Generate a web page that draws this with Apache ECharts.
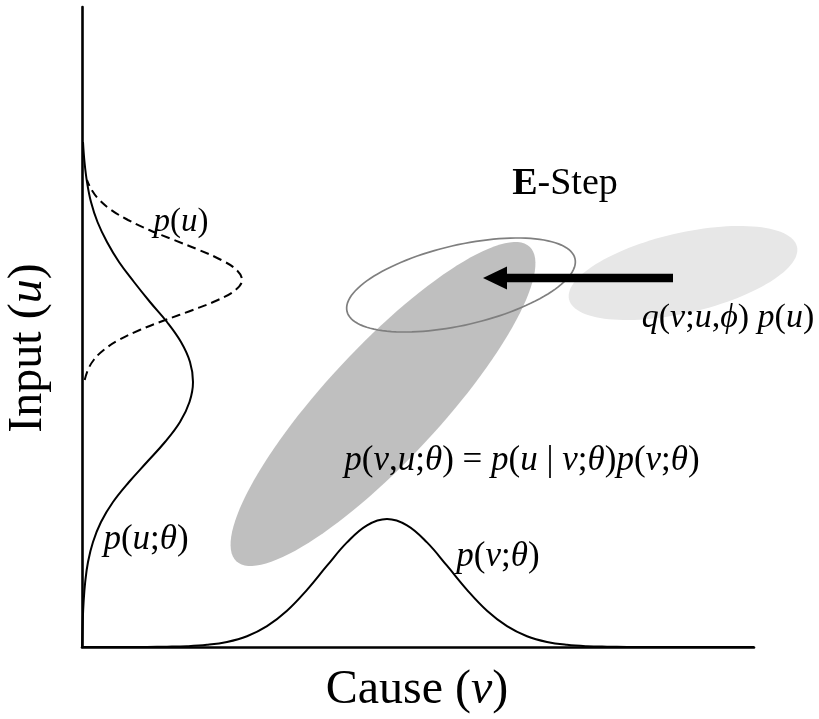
<!DOCTYPE html>
<html>
<head>
<meta charset="utf-8">
<script src="https://cdn.jsdelivr.net/npm/echarts@6/dist/echarts.min.js"></script>
<style>
html,body{margin:0;padding:0;background:#fff;}
#chart{width:819px;height:719px;}
</style>
</head>
<body>
<div id="chart"></div>
<script>
// ---- axis ranges (diagram units) ----
const causeRange = [0, 672];
const inputRange = [0, 640];

// ---- p(v;theta): marginal over the cause axis ----
const causeV  = [0, 45, 65, 85, 105, 125, 145, 165, 185, 205, 225, 245, 265, 285, 305, 325, 345, 365, 385, 405, 425, 445, 465, 485, 505, 525, 545, 565, 672];
const pVTheta = [0, 0, 0.1, 0.3, 0.8, 2.2, 5.1, 10.8, 20.9, 36.3, 57.2, 81.3, 104.6, 121.7, 128, 121.7, 104.6, 81.3, 57.2, 36.3, 20.9, 10.8, 5.1, 2.2, 0.8, 0.3, 0.1, 0, 0];

// ---- p(u;theta): marginal over the input axis (solid) ----
const inputUTheta = [0, 25, 45, 65, 85, 105, 125, 145, 165, 185, 205, 225, 245, 265, 285, 305, 325, 345, 365, 385, 405, 425, 445, 465, 485, 505];
const pUTheta     = [0, 0.7, 1.6, 3.2, 6, 11, 19, 31, 47, 65, 83, 98, 107.5, 111, 108, 99, 85, 68, 52, 37, 25, 15.5, 9, 5, 2.5, 1.0];

// ---- p(u): prior over the input axis (dashed) ----
const inputUPrior = [267, 277, 287, 297, 307, 317, 327, 337, 347, 357, 367, 377, 387, 397, 407, 417, 427, 437, 447, 457, 467];
const pUPrior     = [2.7, 5.9, 11.7, 21.7, 36.8, 57.7, 83.3, 110.8, 135.9, 153.6, 160, 154.6, 139.3, 117.2, 92.0, 67.3, 46.0, 29.3, 17.4, 9.7, 5.0];

// ---- ellipses: [centre v, centre u, semi-major, semi-minor, angle deg] ----
const jointEllipse    = [301, 243, 215, 57, 47];
const qEllipse        = [601, 374, 117, 40, 13];
const qShiftedEllipse = [379, 362, 117, 40, 13];

// ---- E-step arrow ----
const arrowStart = [591, 369];
const arrowEnd   = [401, 369];

// ---- texts ----
const xAxisTitle = '{n|Cause (}{i|v}{n|)}';
const yAxisTitle = '{n|Input (}{i|u}{n|)}';
const eStepText  = '{b|E}{n|-Step}';
const priorText  = '{i|p}{n|(}{i|u}{n|)}';
const qText      = '{i|q}{n|(}{i|v}{n|;}{i|u}{n|,}{i|ϕ}{n|)}{i| p}{n|(}{i|u}{n|)}';
const jointText  = '{i|p}{n|(}{i|v}{n|,}{i|u}{n|;}{i|θ}{n|) = }{i|p}{n|(}{i|u}{n| | }{i|v}{n|;}{i|θ}{n|)}{i|p}{n|(}{i|v}{n|;}{i|θ}{n|)}';
const pUThetaText = '{i|p}{n|(}{i|u}{n|;}{i|θ}{n|)}';
const pVThetaText = '{i|p}{n|(}{i|v}{n|;}{i|θ}{n|)}';

const FONT = '"Liberation Serif", "Times New Roman", serif';
function rich(size) {
  return {
    i: {fontFamily: FONT, fontStyle: 'italic', fontSize: size, fill: '#000', color: '#000'},
    n: {fontFamily: FONT, fontSize: size, fill: '#000', color: '#000'},
    b: {fontFamily: FONT, fontWeight: 'bold', fontSize: size, fill: '#000', color: '#000'}
  };
}
function label(text, x, y, size, rot) {
  return {
    type: 'text', x: x, y: y, rotation: rot || 0, z: 100,
    style: {text: text, rich: rich(size), align: 'center', verticalAlign: 'middle',
            fontFamily: FONT, fontSize: size, fill: '#000'}
  };
}

function ellipseSeries(item, style, z) {
  return {
    type: 'custom', coordinateSystem: 'cartesian2d', z: z, clip: false, silent: true,
    encode: {x: 0, y: 1},
    data: [item],
    renderItem: function (params, api) {
      const cx = api.value(0), cy = api.value(1), a = api.value(2), b = api.value(3);
      const ang = api.value(4) * Math.PI / 180;
      const pts = [];
      for (let k = 0; k < 120; k++) {
        const t = 2 * Math.PI * k / 120;
        const ex = a * Math.cos(t), ey = b * Math.sin(t);
        pts.push(api.coord([cx + ex * Math.cos(ang) - ey * Math.sin(ang),
                            cy + ex * Math.sin(ang) + ey * Math.cos(ang)]));
      }
      return {type: 'polygon', shape: {points: pts}, style: style};
    }
  };
}

const chart = echarts.init(document.getElementById('chart'), null, {renderer: 'canvas'});
const axisCommon = {
  type: 'value',
  axisLine: {show: true, onZero: false, lineStyle: {color: '#000', width: 2.6}},
  axisTick: {show: false}, axisLabel: {show: false}, splitLine: {show: false}
};
chart.setOption({
  backgroundColor: '#fff',
  animation: false,
  grid: {left: 82, right: 65, top: 7, bottom: 72, containLabel: false},
  xAxis: Object.assign({min: causeRange[0], max: causeRange[1]}, axisCommon),
  yAxis: Object.assign({min: inputRange[0], max: inputRange[1]}, axisCommon),
  series: [
    ellipseSeries(jointEllipse, {fill: '#bfbfbf'}, 1),
    ellipseSeries(qEllipse, {fill: '#e7e7e7'}, 1),
    ellipseSeries(qShiftedEllipse, {fill: 'none', stroke: '#7f7f7f', lineWidth: 1.7}, 3),
    {
      name: 'p(v;θ)', type: 'line', z: 4, clip: false, symbol: 'none', smooth: 0.4,
      lineStyle: {color: '#000', width: 2},
      data: causeV.map((v, k) => [v, pVTheta[k]])
    },
    {
      name: 'p(u;θ)', type: 'line', z: 4, clip: false, symbol: 'none', smooth: 0.4,
      lineStyle: {color: '#000', width: 2},
      data: inputUTheta.map((u, k) => [pUTheta[k], u])
    },
    {
      name: 'p(u)', type: 'line', z: 4, clip: false, symbol: 'none', smooth: 0.4,
      lineStyle: {color: '#000', width: 2, type: [9, 5]},
      data: inputUPrior.map((u, k) => [pUPrior[k], u])
    },
    {
      type: 'custom', coordinateSystem: 'cartesian2d', z: 5, clip: false, silent: true,
      encode: {x: [0, 2], y: [1, 3]},
      data: [[arrowStart[0], arrowStart[1], arrowEnd[0], arrowEnd[1]]],
      renderItem: function (params, api) {
        const s = api.coord([api.value(0), api.value(1)]);
        const e = api.coord([api.value(2), api.value(3)]);
        const dx = e[0] - s[0], dy = e[1] - s[1];
        const len = Math.sqrt(dx * dx + dy * dy);
        const ux = dx / len, uy = dy / len;
        const headLen = 24, headHalf = 11.5;
        const bx = e[0] - ux * headLen, by = e[1] - uy * headLen;
        return {
          type: 'group',
          children: [
            {type: 'line', shape: {x1: s[0], y1: s[1], x2: bx + ux * 2, y2: by + uy * 2},
             style: {stroke: '#000', lineWidth: 8.5}},
            {type: 'polygon', shape: {points: [e, [bx - uy * headHalf, by + ux * headHalf], [bx + uy * headHalf, by - ux * headHalf]]},
             style: {fill: '#000'}}
          ]
        };
      }
    }
  ],
  graphic: [
    label(xAxisTitle, 417, 690, 48),
    label(yAxisTitle, 28, 348, 48, Math.PI / 2),
    label(eStepText, 565, 184, 38),
    label(priorText, 181, 222, 33),
    label(qText, 728, 318, 34),
    label(jointText, 522, 461, 35),
    label(pUThetaText, 146, 540, 35),
    label(pVThetaText, 498, 557, 35)
  ]
});
</script>
</body>
</html>
